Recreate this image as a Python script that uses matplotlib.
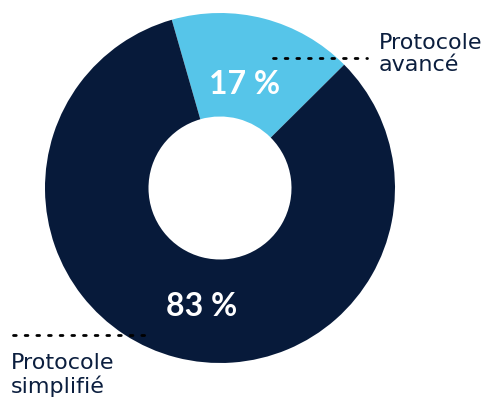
import matplotlib.pyplot as plt

# data
labels = ["Protocole\navancé", "Protocole\nsimplifié"]
shares = [17, 83]
pct_text = ["17 %", "83 %"]
colors = ["#56C5E9", "#071A3A"]

W, H = 490, 397
plt.rcParams['font.family'] = ['Lato', 'DejaVu Sans']

fig = plt.figure(figsize=(W / 100, H / 100), dpi=100)
ax = fig.add_axes([0, 0, 1, 1])

cx, cy = 220, H - 188
r_out, r_in = 175, 71.5
ax.pie(shares, colors=colors, startangle=106, counterclock=False,
       radius=r_out, center=(cx, cy),
       wedgeprops=dict(width=r_out - r_in, linewidth=0))

ax.set_xlim(0, W)
ax.set_ylim(0, H)
ax.set_aspect('equal')
ax.axis('off')

# percentage labels
ax.text(245, H - 85, pct_text[0], color="white", fontsize=23, fontweight="bold",
        ha="center", va="center")
ax.text(202, H - 306, pct_text[1], color="white", fontsize=23, fontweight="bold",
        ha="center", va="center")

# leader lines (dotted)
ax.plot([273, 367], [H - 58, H - 58], color="black", linestyle=(0, (1, 3.2)),
        linewidth=2, solid_capstyle="round", dash_capstyle="round")
ax.plot([13, 148], [H - 335, H - 335], color="black", linestyle=(0, (1, 3.2)),
        linewidth=2, solid_capstyle="round", dash_capstyle="round")

# category labels
lab_font = ['DejaVu Sans']
ax.text(379, H - 33, labels[0], color="#0B1E3E", fontsize=16, ha="left",
        va="top", linespacing=1.15, family=lab_font)
ax.text(11, H - 353, labels[1], color="#0B1E3E", fontsize=16, ha="left",
        va="top", linespacing=1.15, family=lab_font)

fig.savefig("out.png", dpi=100)
